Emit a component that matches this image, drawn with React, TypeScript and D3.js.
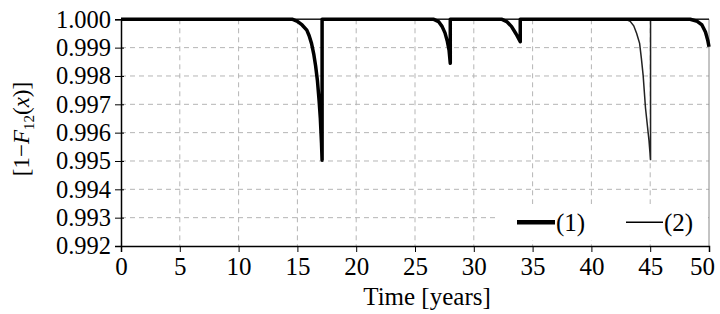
import React, { useEffect, useRef } from "react";
import * as d3 from "d3";

// series (1): thick line, [time, value]
const series1: [number, number][] = [
  [0, 1], [14.6, 1], [15.0, 0.99993], [15.4, 0.9998], [15.8, 0.99962], [16.0, 0.99942],
  [16.2, 0.99915], [16.4, 0.99875], [16.55, 0.99835], [16.7, 0.99785], [16.85, 0.9971],
  [16.95, 0.9965], [17.05, 0.99562], [17.1, 0.99503], [17.1, 1],
  [26.6, 1], [27.0, 0.99992], [27.3, 0.99975], [27.55, 0.99952], [27.75, 0.99922], [27.9, 0.9989], [28.0, 0.99845], [28.0, 1],
  [32.4, 1], [32.8, 0.99992], [33.2, 0.99975], [33.6, 0.99948], [33.95, 0.99921], [33.95, 1],
  [48.4, 1], [49.0, 0.99993], [49.4, 0.9998], [49.7, 0.99955], [49.9, 0.99925], [50, 0.99903],
];

// series (2): thin line
const series2: [number, number][] = [
  [0, 1], [42.9, 1], [43.3, 0.99993], [43.6, 0.99977], [43.85, 0.9995], [44.1, 0.99915],
  [44.25, 0.99862], [44.4, 0.99802], [44.6, 0.99687], [44.9, 0.99571], [45.03, 0.99503], [45.03, 1], [50, 1],
];

const xTicks = [0, 5, 10, 15, 20, 25, 30, 35, 40, 45, 50];
const yTicks = [0.992, 0.993, 0.994, 0.995, 0.996, 0.997, 0.998, 0.999, 1.0];
const legendLabels = ["(1)", "(2)"];

const FONT = "'Liberation Serif', 'Times New Roman', serif";

const App = () => {
  const svgRef = useRef<SVGSVGElement | null>(null);

  useEffect(() => {
    const svg = d3.select(svgRef.current);
    svg.selectAll("*").remove();

    const left = 121, right = 709, top = 19.3, bottom = 246;
    const x = d3.scaleLinear().domain([0, 50]).range([left, right]);
    const y = d3.scaleLinear().domain([0.992, 1.0]).range([bottom, top]);

    // grid
    svg.append("g")
      .selectAll("line")
      .data(xTicks.slice(1, -1))
      .enter()
      .append("line")
      .attr("x1", (d) => x(d)).attr("x2", (d) => x(d))
      .attr("y1", top).attr("y2", bottom)
      .attr("stroke", "#b5b5b5").attr("stroke-width", 1)
      .attr("stroke-dasharray", "5,4");
    svg.append("g")
      .selectAll("line")
      .data(yTicks.slice(1, -1))
      .enter()
      .append("line")
      .attr("x1", left).attr("x2", right)
      .attr("y1", (d) => y(d)).attr("y2", (d) => y(d))
      .attr("stroke", "#b5b5b5").attr("stroke-width", 1)
      .attr("stroke-dasharray", "5,4");

    // frame top / right
    svg.append("path")
      .attr("d", `M${left},${top}H${right}V${bottom}`)
      .attr("fill", "none").attr("stroke", "#888").attr("stroke-width", 1);

    // legend background
    svg.append("rect")
      .attr("x", 498).attr("y", 204).attr("width", right - 499).attr("height", 36)
      .attr("fill", "#fff");

    const line = d3.line<[number, number]>()
      .x((d) => x(d[0]))
      .y((d) => y(d[1]));

    svg.append("path")
      .datum(series2)
      .attr("fill", "none").attr("stroke", "#222").attr("stroke-width", 1.5)
      .attr("d", line);
    svg.append("path")
      .datum(series1)
      .attr("fill", "none").attr("stroke", "#000").attr("stroke-width", 3.5)
      .attr("stroke-linejoin", "round")
      .attr("d", line);

    // axes
    const xAxis = svg.append("g")
      .attr("transform", `translate(0,${bottom})`)
      .call(d3.axisBottom(x).tickValues(xTicks).tickSize(6).tickPadding(5).tickFormat(d3.format("d")));
    xAxis.select(".domain").attr("stroke", "#000").attr("stroke-width", 1.5);
    xAxis.selectAll("text")
      .attr("font-family", FONT).attr("font-size", 25).attr("fill", "#000");
    // last label pulled in so it stays on the page
    xAxis.selectAll<SVGTextElement, number>("text")
      .filter((d) => d === 50)
      .attr("dx", -7);

    const yAxis = svg.append("g")
      .attr("transform", `translate(${left},0)`)
      .call(d3.axisLeft(y).tickValues(yTicks).tickSize(6).tickPadding(4).tickFormat(d3.format(".3f")));
    yAxis.select(".domain").attr("stroke", "#000").attr("stroke-width", 1.5);
    yAxis.selectAll(".tick line").attr("x2", -6).attr("x1", 3);
    yAxis.selectAll("text")
      .attr("font-family", FONT).attr("font-size", 24.5).attr("fill", "#000");

    // axis titles
    svg.append("text")
      .attr("x", 427).attr("y", 305)
      .attr("text-anchor", "middle")
      .attr("font-family", FONT).attr("font-size", 25)
      .text("Time [years]");

    const yl = svg.append("text")
      .attr("transform", "translate(29,129) rotate(-90)")
      .attr("text-anchor", "middle")
      .attr("font-family", FONT).attr("font-size", 23);
    yl.append("tspan").text("[1\u2212");
    yl.append("tspan").attr("font-style", "italic").text("F");
    yl.append("tspan").attr("font-size", 15).attr("dy", 5).text("12");
    yl.append("tspan").attr("dy", -5).text("(");
    yl.append("tspan").attr("font-style", "italic").text("x");
    yl.append("tspan").text(")]");

    // legend
    const ly = 222.3;
    const legendItems = [
      { label: legendLabels[0], x1: 517, x2: 555, w: 4.5 },
      { label: legendLabels[1], x1: 626, x2: 663, w: 1.5 },
    ];
    legendItems.forEach((it) => {
      svg.append("line")
        .attr("x1", it.x1).attr("x2", it.x2).attr("y1", ly).attr("y2", ly)
        .attr("stroke", "#000").attr("stroke-width", it.w);
      svg.append("text")
        .attr("x", it.x2 + 1).attr("y", ly + 9)
        .attr("font-family", FONT).attr("font-size", 25)
        .text(it.label);
    });
  }, []);

  return (
    <svg
      ref={svgRef}
      width={720}
      height={314}
      style={{ position: "absolute", left: 0, top: 0, background: "#fff" }}
    ></svg>
  );
};

export default App;
